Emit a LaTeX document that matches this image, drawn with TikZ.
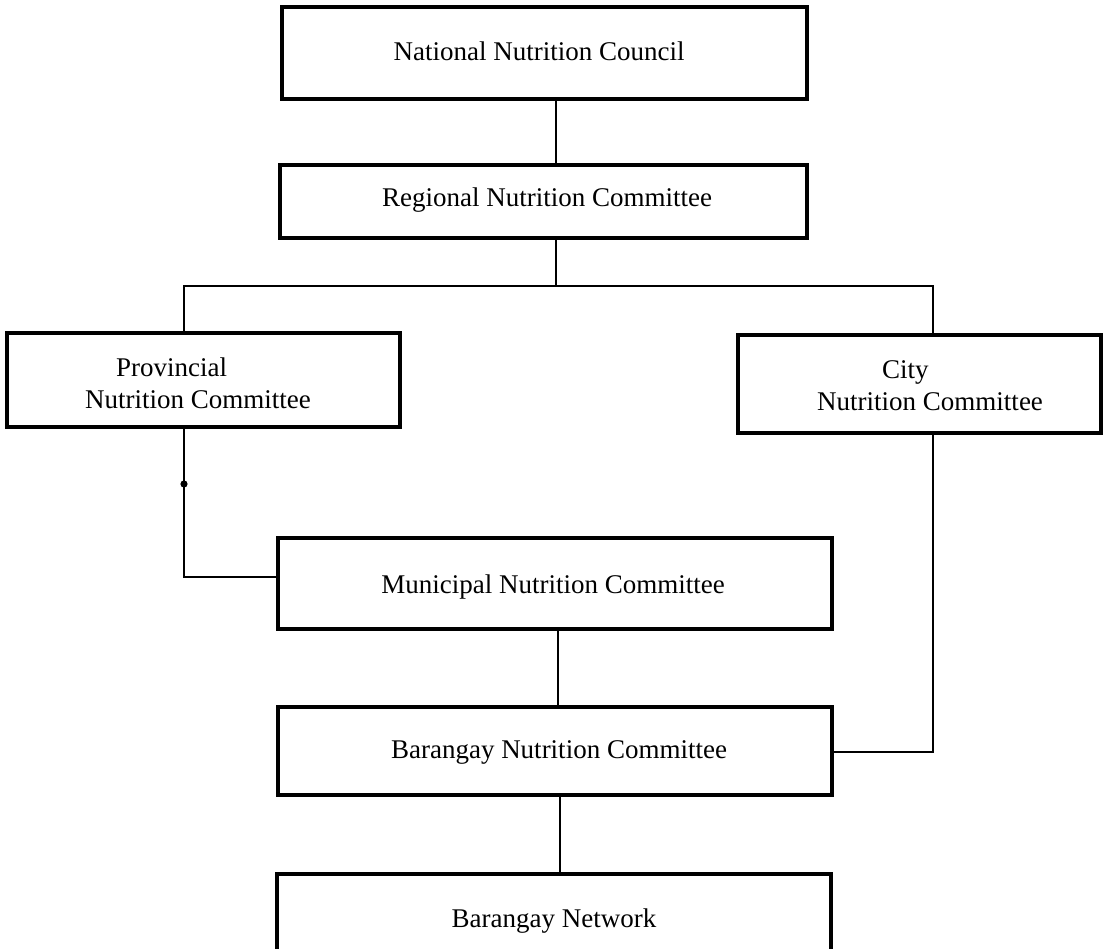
\documentclass[tikz,border=0pt]{standalone}
\usepackage{fontspec}
\setmainfont{Liberation Serif}
\begin{document}
\begin{tikzpicture}[x=1pt,y=-1pt,
  box/.style={draw, line width=3.2pt, inner sep=0pt, outer sep=0pt, rectangle},
  conn/.style={line width=2.2pt},
  lbl/.style={font=\fontsize{27}{31}\selectfont, inner sep=0pt, anchor=base}]
\useasboundingbox (0,0) rectangle (1104,949);
\clip (0,0) rectangle (1104,949);
% boxes
\node[box, minimum width=525pt, minimum height=92pt] (nat) at (544.5,53) {};
\node[box, minimum width=527pt, minimum height=73pt] (reg) at (543.5,201.5) {};
\node[box, minimum width=393pt, minimum height=94pt] (prov) at (203.5,380) {};
\node[box, minimum width=363pt, minimum height=98pt] (city) at (919.5,384) {};
\node[box, minimum width=554pt, minimum height=91pt] (mun) at (555,583.5) {};
\node[box, minimum width=554pt, minimum height=88pt] (bnc) at (555,751) {};
\node[box, minimum width=554pt, minimum height=126pt] (net) at (554,937) {};
% labels
\node[lbl] (tnat) at (539,61) {National Nutrition Council};
\node[lbl] (treg) at (547,207) {Regional Nutrition Committee};
\node[lbl, anchor=base west] (tprov1) at (116,377) {Provincial};
\node[lbl, anchor=base west] (tprov2) at (85,409) {Nutrition Committee};
\node[lbl, anchor=base west] (tcity1) at (882,379) {City};
\node[lbl, anchor=base west] (tcity2) at (817,411) {Nutrition Committee};
\node[lbl] (tmun) at (553,593) {Municipal Nutrition Committee};
\node[lbl] (tbnc) at (559,758) {Barangay Nutrition Committee};
\node[lbl] (tnet) at (554,927) {Barangay Network};
% connectors
\coordinate (j) at (556,286);
\coordinate (hl) at (184,286);
\coordinate (hr) at (933,286);
\coordinate (pc) at (184,577);
\coordinate (pd) at (184,484);
\coordinate (m) at (558,0);
\coordinate (cc) at (933,752);
\coordinate (b) at (560,0);
\draw[conn] (nat.south -| j) -- (reg.north -| j);
\draw[conn] (reg.south -| j) -- (j);
\draw[conn] (prov.north -| hl) -- (hl) -- (hr) -- (city.north -| hr);
\draw[conn] (prov.south -| pc) -- (pc) -- (mun.west |- pc);
\fill (pd) circle (3.6pt);
\draw[conn] (mun.south -| m) -- (bnc.north -| m);
\draw[conn] (city.south -| cc) -- (cc) -- (bnc.east |- cc);
\draw[conn] (bnc.south -| b) -- (net.north -| b);
\end{tikzpicture}
\end{document}
